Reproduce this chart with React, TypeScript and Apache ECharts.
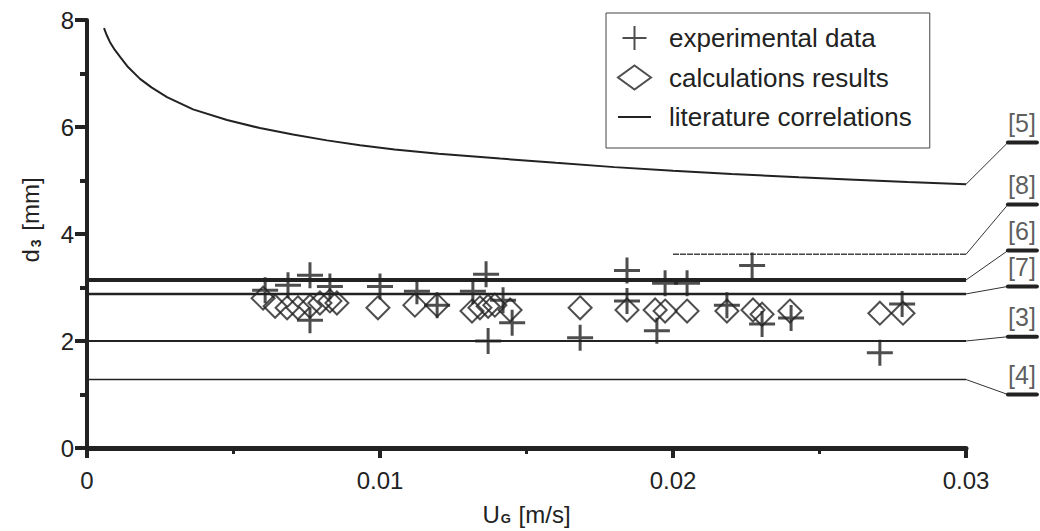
import React, { useEffect, useRef } from "react";
import * as echarts from "echarts";

// experimental data (+)
const expX = [0.00608, 0.00686, 0.00761, 0.00761, 0.00829, 0.0100, 0.01126, 0.01195, 0.01317, 0.01362, 0.01369, 0.0142, 0.01451, 0.01683, 0.01843, 0.01843, 0.01945, 0.01973, 0.02048, 0.02184, 0.0227, 0.02304, 0.02403, 0.02706, 0.02782];
const expY = [2.95, 3.04, 3.23, 2.39, 3.02, 3.02, 2.93, 2.67, 2.93, 3.25, 2.0, 2.76, 2.34, 2.06, 3.32, 2.75, 2.19, 3.08, 3.08, 2.67, 3.41, 2.32, 2.43, 1.78, 2.69];

// calculation results (diamonds)
const calcX = [0.00601, 0.00642, 0.00683, 0.0072, 0.00761, 0.00795, 0.00829, 0.00853, 0.00993, 0.01119, 0.01195, 0.01314, 0.01341, 0.01369, 0.01392, 0.01444, 0.01683, 0.01843, 0.01939, 0.01973, 0.02048, 0.02184, 0.02273, 0.02304, 0.02399, 0.02706, 0.02785];
const calcY = [2.8, 2.65, 2.62, 2.62, 2.65, 2.71, 2.75, 2.71, 2.62, 2.67, 2.67, 2.56, 2.62, 2.65, 2.67, 2.58, 2.62, 2.58, 2.58, 2.56, 2.56, 2.56, 2.58, 2.5, 2.56, 2.52, 2.52];

// literature correlation [5] (curve)
const lit5X = [0.00058, 0.00068, 0.00078, 0.00095, 0.00113, 0.0014, 0.00181, 0.0022, 0.00273, 0.00362, 0.00478, 0.0059, 0.00703, 0.00819, 0.00932, 0.0105, 0.012, 0.0141, 0.016, 0.018, 0.02, 0.022, 0.0243, 0.026, 0.028, 0.03];
const lit5Y = [7.85, 7.71, 7.59, 7.44, 7.31, 7.12, 6.9, 6.74, 6.56, 6.33, 6.13, 5.98, 5.86, 5.75, 5.66, 5.58, 5.5, 5.41, 5.33, 5.25, 5.18, 5.12, 5.06, 5.02, 4.97, 4.93];

// literature correlation [8]
const lit8X = [0.02, 0.03];
const lit8Y = [3.62, 3.62];

// constant correlations [6], [7], [3], [4]
const flatX = [0, 0.03];
const lit6Y = 3.14;
const lit7Y = 2.88;
const lit3Y = 2.0;
const lit4Y = 1.28;

// right-hand tags
const tagNames = ["[5]", "[8]", "[6]", "[7]", "[3]", "[4]"];
const tagLineY = [4.93, 3.62, 3.14, 2.88, 2.0, 1.28];
const tagBarY = [5.71, 4.55, 3.69, 3.02, 2.08, 1.0];
const tagFromX = 0.03;
const tagBarStartX = 0.03143;
const tagLabelX = 0.03191;
const tagBarEndX = 0.03242;

const yTicks = { min: 0, max: 8, interval: 2 };
const xTicks = { min: 0, max: 0.03, interval: 0.01 };

const INK = "#222";
const FONT = "'Liberation Sans', Arial, sans-serif";

export default function App() {
  const ref = useRef<HTMLDivElement>(null);

  useEffect(() => {
    if (!ref.current) return;
    const chart = echarts.init(ref.current, undefined, { renderer: "svg" });

    const zip = (xs: number[], ys: number[]) => xs.map((x, i) => [x, ys[i]]);
    const flat = (y: number) => flatX.map((x) => [x, y]);

    const litLine = (data: number[][], width: number, extra: any = {}) => ({
      type: "line",
      name: "literature correlations",
      data,
      symbol: "none",
      showSymbol: false,
      clip: false,
      silent: true,
      lineStyle: { color: INK, width, ...extra },
      z: 2,
    });

    chart.setOption({
      animation: false,
      backgroundColor: "#fff",
      grid: { left: 87, right: 74, top: 20, bottom: 80, containLabel: false },
      legend: {
        data: [
          "experimental data",
          "calculations results",
          { name: "literature correlations", itemStyle: { opacity: 0 }, lineStyle: { color: INK, width: 2 } },
        ],
        orient: "vertical",
        left: 606,
        top: 13,
        padding: [12, 18, 18, 11],
        itemWidth: 33,
        itemHeight: 24,
        itemGap: 13.5,
        borderColor: "#444",
        borderWidth: 1,
        backgroundColor: "#fff",
        selectedMode: false,
        textStyle: { color: INK, fontSize: 26, fontFamily: FONT, padding: [0, 0, 0, 13] },
      },
      xAxis: {
        type: "value",
        min: xTicks.min,
        max: xTicks.max,
        interval: xTicks.interval,
        name: "{u|U}{g|G}{u| [m/s]}",
        nameLocation: "middle",
        nameGap: 54,
        nameTextStyle: {
          rich: {
            u: { fontSize: 24, fontFamily: FONT, color: INK },
            g: { fontSize: 13, fontWeight: "bold", fontFamily: FONT, color: INK, padding: [9, 1, 0, 1] },
          },
        },
        axisLine: { lineStyle: { color: INK, width: 5 } },
        axisTick: { length: 10, lineStyle: { color: INK, width: 4 } },
        minorTick: { show: true, splitNumber: 2, length: 6, lineStyle: { color: INK, width: 3 } },
        splitLine: { show: false },
        axisLabel: {
          color: INK,
          fontSize: 24,
          fontFamily: FONT,
          margin: 20,
          formatter: (v: number) => (v === 0 ? "0" : String(Number(v.toFixed(3)))),
        },
      },
      yAxis: {
        type: "value",
        min: yTicks.min,
        max: yTicks.max,
        interval: yTicks.interval,
        axisLine: { lineStyle: { color: INK, width: 4 } },
        axisTick: { length: 12, lineStyle: { color: INK, width: 4 } },
        minorTick: { show: true, splitNumber: 2, length: 7, lineStyle: { color: INK, width: 4 } },
        splitLine: { show: false },
        axisLabel: { color: INK, fontSize: 24, fontFamily: FONT, margin: 13 },
      },
      graphic: [
        {
          type: "text",
          x: 30,
          y: 220,
          rotation: Math.PI / 2,
          silent: true,
          style: {
            text: "{d|d}{s|3}{d| [mm]}",
            align: "center",
            verticalAlign: "middle",
            fill: INK,
            rich: {
              d: { fontSize: 24, fontFamily: FONT, fill: INK },
              s: { fontSize: 14, fontWeight: "bold", fontFamily: FONT, fill: INK, padding: [12, 2, 0, 2] },
            },
          },
        },
      ],
      series: [
        litLine(zip(lit5X, lit5Y), 2),
        litLine(zip(lit8X, lit8Y), 1.5, { type: [6, 1], color: "#444" }),
        litLine(flat(lit6Y), 4),
        litLine(flat(lit7Y), 2.5),
        litLine(flat(lit3Y), 2),
        litLine(flat(lit4Y), 1.5),
        {
          type: "custom",
          name: "tag leaders",
          clip: false,
          silent: true,
          data: tagNames.map((_, i) => [tagFromX, tagLineY[i], tagBarStartX, tagBarY[i], tagBarEndX]),
          encode: { x: [0, 2, 4], y: [1, 3] },
          renderItem: (_params: any, api: any) => {
            const p0 = api.coord([api.value(0), api.value(1)]);
            const p1 = api.coord([api.value(2), api.value(3)]);
            const p2 = api.coord([api.value(4), api.value(3)]);
            return {
              type: "group",
              children: [
                {
                  type: "line",
                  shape: { x1: p0[0], y1: p0[1], x2: p1[0], y2: p1[1] },
                  style: { stroke: "#333", lineWidth: 1 },
                },
                {
                  type: "line",
                  shape: { x1: p1[0], y1: p1[1], x2: p2[0], y2: p2[1] },
                  style: { stroke: INK, lineWidth: 4, lineCap: "round" },
                },
              ],
            };
          },
        },
        {
          type: "scatter",
          name: "experimental data",
          data: zip(expX, expY),
          symbol: "path://M12,0L12,24M0,12L24,12",
          symbolSize: 26,
          silent: true,
          itemStyle: { color: "transparent", borderColor: INK, borderWidth: 3 },
          emphasis: { disabled: true },
          z: 4,
        },
        {
          type: "scatter",
          name: "calculations results",
          data: zip(calcX, calcY),
          symbol: "diamond",
          symbolSize: 23,
          silent: true,
          itemStyle: { color: "transparent", borderColor: INK, borderWidth: 2 },
          emphasis: { disabled: true },
          z: 3,
        },
        {
          type: "scatter",
          name: "tags",
          data: tagNames.map((n, i) => ({ value: [tagLabelX, tagBarY[i]], name: n })),
          symbolSize: 0,
          clip: false,
          silent: true,
          itemStyle: { color: "transparent" },
          label: {
            show: true,
            position: "top",
            distance: 7,
            formatter: (p: any) => p.name,
            color: "#333",
            fontSize: 25,
            fontFamily: FONT,
          },
        },
      ],
    });

    return () => chart.dispose();
  }, []);

  return (
    <div
      ref={ref}
      style={{ position: "fixed", left: 0, top: 0, width: 1040, height: 531, background: "#fff" }}
    />
  );
}
